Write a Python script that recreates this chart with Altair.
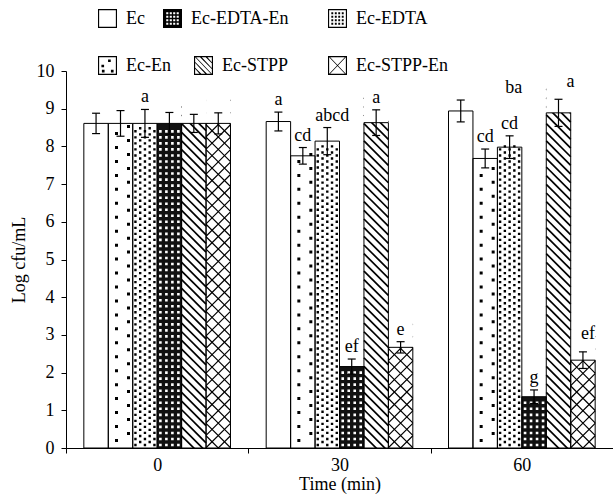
import altair as alt
import pandas as pd

# ---------------- data ----------------
times = ["0", "30", "60"]
series = ["Ec", "Ec-En", "Ec-EDTA", "Ec-EDTA-En", "Ec-STPP", "Ec-STPP-En"]
legend_row1a = ["Ec", "Ec-EDTA-En"]
legend_row1b = ["Ec-EDTA"]
legend_row2a = ["Ec-En", "Ec-STPP"]
legend_row2b = ["Ec-STPP-En"]

ec_mean = [8.61, 8.66, 8.94]
ec_en_mean = [8.61, 7.75, 7.68]
ec_edta_mean = [8.61, 8.14, 7.98]
ec_edta_en_mean = [8.61, 2.16, 1.36]
ec_stpp_mean = [8.61, 8.63, 8.89]
ec_stpp_en_mean = [8.61, 2.67, 2.33]

ec_err = [0.27, 0.25, 0.29]
ec_en_err = [0.34, 0.22, 0.25]
ec_edta_err = [0.37, 0.36, 0.30]
ec_edta_en_err = [0.29, 0.20, 0.18]
ec_stpp_err = [0.24, 0.34, 0.36]
ec_stpp_en_err = [0.28, 0.15, 0.22]

ec_lab = ["", "a", "ba"]
ec_en_lab = ["", "cd", "cd"]
ec_edta_lab = ["a", "abcd", "cd"]
ec_edta_en_lab = ["", "ef", "g"]
ec_stpp_lab = ["", "a", "a"]
ec_stpp_en_lab = ["", "e", "ef"]

means = [ec_mean, ec_en_mean, ec_edta_mean, ec_edta_en_mean, ec_stpp_mean, ec_stpp_en_mean]
errs = [ec_err, ec_en_err, ec_edta_err, ec_edta_en_err, ec_stpp_err, ec_stpp_en_err]
labs = [ec_lab, ec_en_lab, ec_edta_lab, ec_edta_en_lab, ec_stpp_lab, ec_stpp_en_lab]

rows = []
for s, m, e, l in zip(series, means, errs, labs):
    for t, mv, ev, lv in zip(times, m, e, l):
        rows.append({"series": s, "time": t, "value": mv, "err": ev, "label": lv})
df = pd.DataFrame(rows)

# ---------------- styling ----------------
FONT = "Liberation Serif"
FS = 18
W, H = 547, 377
BAR_W = (W / 3) / (6 + 2 * 0.73)
HALF = BAR_W / 2.0
SYM = BAR_W ** 2  # custom path [-1,1] spans one bar width


def rect(cx, cy, w, h):
    """small rectangle in pixel offsets -> path in symbol units"""
    x0 = (cx - w / 2) / HALF
    y0 = (cy - h / 2) / HALF
    return f"M{x0:.3f},{y0:.3f}h{w/HALF:.3f}v{h/HALF:.3f}h{-w/HALF:.3f}Z"


# bar pattern tiles
tile_en = rect(-4, 0, 3, 3) + rect(8, -7, 3, 3)
tile_edta = "".join(rect(x, (0 if i % 2 == 0 else -3), 2.4, 2.4)
                    for i, x in enumerate([-9.5, -4.75, 0, 4.75, 9.5]))
tile_edta_en = "".join(rect(x, 0, 2.6, 2.6) for x in [-9, -3, 3, 9])
tile_diag = "M-1,-1L1,1"
tile_cross = "M-1,-1L1,1M-1,1L1,-1"


# legend symbol paths (filled, unit square [-1,1])
def sq(x0, y0, x1, y1, cw=True):
    if cw:
        return f"M{x0:.3f},{y0:.3f}L{x1:.3f},{y0:.3f}L{x1:.3f},{y1:.3f}L{x0:.3f},{y1:.3f}Z"
    return f"M{x0:.3f},{y0:.3f}L{x0:.3f},{y1:.3f}L{x1:.3f},{y1:.3f}L{x1:.3f},{y0:.3f}Z"


def dot(cx, cy, r, cw=True):
    return sq(cx - r, cy - r, cx + r, cy + r, cw)


def stripe(x1, y1, x2, y2, d=0.1):
    c = lambda v: max(-1.0, min(1.0, v))
    return (f"M{c(x1-d):.3f},{y1:.3f}L{c(x1+d):.3f},{y1:.3f}"
            f"L{c(x2+d):.3f},{y2:.3f}L{c(x2-d):.3f},{y2:.3f}Z")


FRAME = sq(-1, -1, 1, 1, True) + sq(-0.88, -0.88, 0.88, 0.88, False)
grid4 = [-0.55, -0.18, 0.18, 0.55]
sym_ec = FRAME
sym_en = FRAME + "".join(dot(x, y, 0.14) for x, y in [(0.2, -0.5), (-0.5, 0.05), (-0.45, 0.6), (0.5, 0.6)])
sym_edta = FRAME + "".join(dot(x, y, 0.1) for x in grid4 for y in grid4)
sym_edta_en = sq(-1, -1, 1, 1, True) + "".join(dot(x, y, 0.11, False) for x in grid4 for y in grid4)


def diag_stripes(cs):
    out = ""
    for cval in cs:
        xa = max(-1.0, cval - 1)
        xb = min(1.0, cval + 1)
        out += stripe(xa, xa - cval, xb, xb - cval)
    return out


sym_stpp = FRAME + diag_stripes([-1.2, -0.6, 0.0, 0.6, 1.2])
sym_stpp_en = FRAME + stripe(-1, -1, 1, 1) + stripe(1, -1, -1, 1)
sym_of = dict(zip(series, [sym_ec, sym_en, sym_edta, sym_edta_en, sym_stpp, sym_stpp_en]))

x_enc = alt.X("time:N", scale=alt.Scale(domain=times, paddingInner=0, paddingOuter=0),
              axis=alt.Axis(title="Time (min)", labelAngle=0, tickBand="extent", tickSize=5,
                            labelPadding=3, titlePadding=1))
xo_enc = alt.XOffset("series:N", scale=alt.Scale(domain=series, paddingInner=0, paddingOuter=0.73))
y_scale = alt.Scale(domain=[0, 10])
y_axis = alt.Axis(title="Log cfu/mL", values=list(range(0, 11)), tickSize=5, labelPadding=7,
                  titlePadding=8, grid=False)


def Y(field):
    return alt.Y(field, scale=y_scale, axis=y_axis)


base = alt.Chart(df)

bars = base.mark_bar(strokeWidth=0).encode(
    x=x_enc, xOffset=xo_enc, y=Y("value:Q"),
    fill=alt.condition(alt.datum.series == "Ec-EDTA-En", alt.value("#111111"), alt.value("white")),
)


def pattern(s, start, step, extra, shape, filled, color, sw=1.0):
    props = dict(shape=shape, size=SYM, clip=True, opacity=1, filled=filled)
    if filled:
        props.update(fill=color, strokeWidth=0)
    else:
        props.update(stroke=color, strokeWidth=sw, fillOpacity=0)
    return (base.transform_filter(alt.datum.series == s)
            .transform_calculate(ys=f"sequence({start}, datum.value + ({extra}), {step})")
            .transform_flatten(["ys"])
            .mark_point(**props)
            .encode(x=x_enc, xOffset=xo_enc, y=Y("ys:Q")))


p_en = pattern("Ec-En", 0.2, 0.37, -0.08, tile_en, True, "black")
p_edta = pattern("Ec-EDTA", 0.08, 0.16, -0.06, tile_edta, True, "black")
p_edta_en = pattern("Ec-EDTA-En", 0.08, 0.16, -0.06, tile_edta_en, True, "white")
p_stpp = pattern("Ec-STPP", 0.0, 0.23, 0.35, tile_diag, False, "black", 1.7)
p_stpp_en = pattern("Ec-STPP-En", 0.0, 0.33, 0.35, tile_cross, False, "black", 1.2)

cover = (base.transform_filter("datum.series == 'Ec-STPP' || datum.series == 'Ec-STPP-En'")
         .transform_calculate(top="datum.value + 0.8")
         .mark_bar(fill="white", strokeWidth=0)
         .encode(x=x_enc, xOffset=xo_enc, y=Y("value:Q"), y2="top:Q"))

outline = base.mark_bar(fill="transparent", stroke="black", strokeWidth=1).encode(
    x=x_enc, xOffset=xo_enc, y=Y("value:Q"))

eb = base.transform_calculate(lo="datum.value - datum.err", hi="datum.value + datum.err")
err_rule = eb.mark_rule(color="black", strokeWidth=1.2).encode(
    x=x_enc, xOffset=xo_enc, y=Y("lo:Q"), y2="hi:Q")
cap_hi = eb.mark_point(shape="M-1,0L1,0", size=64, stroke="black", strokeWidth=1.2,
                       filled=False, opacity=1).encode(x=x_enc, xOffset=xo_enc, y=Y("hi:Q"))
cap_lo = eb.mark_point(shape="M-1,0L1,0", size=64, stroke="black", strokeWidth=1.2,
                       filled=False, opacity=1).encode(x=x_enc, xOffset=xo_enc, y=Y("lo:Q"))

txt_props = dict(font=FONT, fontSize=FS, color="black", baseline="alphabetic", align="center")

# letters that sit off their default place in the reference: (series, time, dx, dy)
shifted = [("Ec", "60", 53, -7), ("Ec-STPP", "60", 12, -12),
           ("Ec-EDTA", "30", 5, -7), ("Ec-STPP-En", "60", 5, -13)]
not_shifted = " && ".join(f"!(datum.series == '{s}' && datum.time == '{t}')" for s, t, _, _ in shifted)
label_layers = [eb.transform_filter(f"datum.label != '' && {not_shifted}")
                .mark_text(dy=-7, **txt_props)
                .encode(x=x_enc, xOffset=xo_enc, y=Y("hi:Q"), text="label:N")]
for s, t, ddx, ddy in shifted:
    label_layers.append(
        eb.transform_filter(f"datum.series == '{s}' && datum.time == '{t}'")
        .mark_text(dx=ddx, dy=ddy, **txt_props)
        .encode(x=x_enc, xOffset=xo_enc, y=Y("hi:Q"), text="label:N"))


def legend_layer(entries, lx, ly, cpad):
    lg = alt.Legend(orient="none", legendX=lx, legendY=ly, direction="horizontal",
                    title=None, symbolSize=361, symbolFillColor="black",
                    symbolStrokeWidth=0, symbolOpacity=1,
                    labelFont=FONT, labelFontSize=FS, labelColor="black", labelOffset=9,
                    columnPadding=cpad, padding=0, labelLimit=300)
    return (base.transform_filter("false")
            .mark_point(filled=True, color="black", strokeWidth=0, opacity=1)
            .encode(x=x_enc, xOffset=xo_enc, y=Y("value:Q"),
                    shape=alt.Shape("series:N",
                                    scale=alt.Scale(domain=entries,
                                                    range=[sym_of[e] for e in entries]),
                                    legend=lg)))


legends = [legend_layer(legend_row1a, 32, -62, 18), legend_layer(legend_row1b, 262, -62, 18),
           legend_layer(legend_row2a, 32, -15, 23), legend_layer(legend_row2b, 262, -15, 18)]

chart = alt.layer(
    bars, p_en, p_edta, p_edta_en, p_stpp, p_stpp_en, cover, outline,
    err_rule, cap_hi, cap_lo, *label_layers, *legends,
).resolve_scale(shape="independent").resolve_legend(shape="independent").properties(
    width=W, height=H,
    autosize=alt.AutoSizeParams(type="none"),
    padding={"left": 66, "top": 71, "right": 0, "bottom": 54},
).configure_view(stroke=None).configure_axis(
    labelFont=FONT, titleFont=FONT, labelFontSize=FS, titleFontSize=FS,
    labelColor="black", titleColor="black", titleFontWeight="normal",
    domainColor="black", tickColor="black", domainWidth=1, tickWidth=1,
).configure_legend(labelFont=FONT, labelFontSize=FS, labelColor="black")

chart.save("out.html", embed_options={"renderer": "svg", "actions": False})
